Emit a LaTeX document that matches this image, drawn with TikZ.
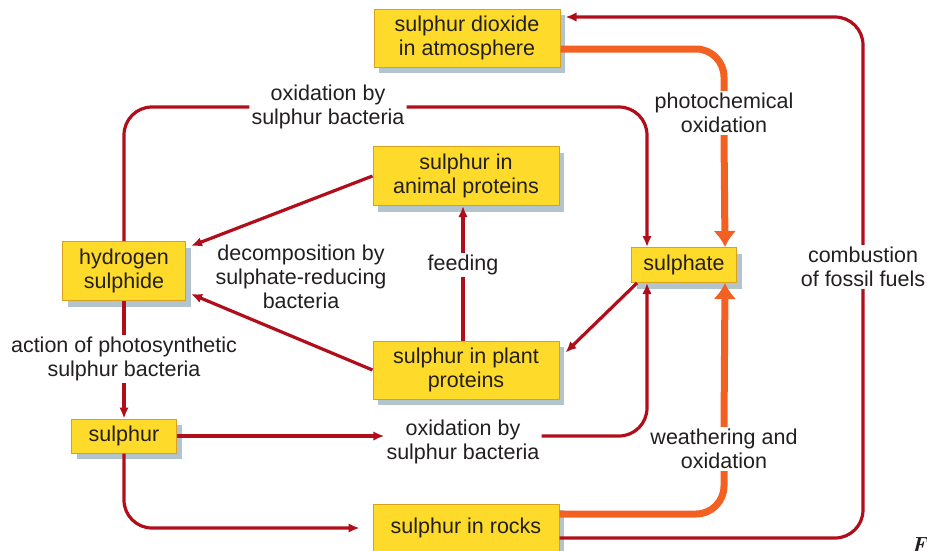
\documentclass[tikz,border=0pt]{standalone}
\usepackage{fontspec}
\newfontfamily\diagfont{Liberation Sans}
\usepackage{xcolor}
\usetikzlibrary{arrows.meta,positioning,shadows}
\definecolor{boxfill}{HTML}{FEDB2A}
\definecolor{boxline}{HTML}{D9A11E}
\definecolor{boxshade}{HTML}{B2C5CE}
\definecolor{cyclered}{HTML}{B10E1B}
\definecolor{cycleorange}{HTML}{F26122}
\definecolor{inktext}{HTML}{231F20}

\begin{document}
\begin{tikzpicture}[
  x=1pt, y=-1pt,
  every node/.style={font=\diagfont\fontsize{21.5}{24}\selectfont, text=inktext},
  box/.style={draw=boxline, line width=1pt, fill=boxfill, align=center, inner sep=2pt,
              general shadow={fill=boxshade, draw=none, shadow xshift=5pt, shadow yshift=-6pt}},
  lbl/.style={fill=white, align=center, inner sep=2pt},
  rline/.style={draw=cyclered, line width=3.2pt, rounded corners=28pt},
  arr/.style={rline, -{Latex[length=11pt,width=9.5pt]}},
  oline/.style={draw=cycleorange, line width=7pt, rounded corners=28pt},
  oarr/.style={oline, -{Latex[length=16pt,width=23pt]}},
]
\useasboundingbox (0,0) rectangle (927,550);
\node[box, minimum width=186pt, minimum height=58pt] (so2) at (467,38) {sulphur dioxide\\in atmosphere};
\node[box, minimum width=186pt, minimum height=59pt] (animal) at (466,176) {sulphur in\\animal proteins};
\node[box, minimum width=123pt, minimum height=59pt] (hs) at (124,271) {hydrogen\\sulphide};
\node[box, minimum width=105pt, minimum height=35pt] (sulphate) at (684,265) {sulphate};
\node[box, minimum width=186pt, minimum height=58pt] (plant) at (466,370) {sulphur in plant\\proteins};
\node[box, minimum width=105pt, minimum height=34pt] (sulphur) at (124,436) {sulphur};
\node[box, minimum width=186pt, minimum height=48pt] (rocks) at (466,528) {sulphur in rocks};

\node[lbl] (oxtop) at (328,107) {oxidation by\\sulphur bacteria};
\node[lbl] (photo) at (724,113) {photochemical\\oxidation};
\node[lbl] (combust) at (863,267) {combustion\\of fossil fuels};
\node[lbl] (decomp) at (301,277) {decomposition by\\sulphate-reducing\\bacteria};
\node[lbl] (feed) at (463,265) {feeding};
\node[lbl] (act) at (124,359) {action of photosynthetic\\sulphur bacteria};
\node[lbl] (oxlow) at (463,442) {oxidation by\\sulphur bacteria};
\node[lbl] (weather) at (724,449) {weathering and\\oxidation};
\node[anchor=north west, inner sep=0pt, font=\fontsize{22}{22}\selectfont\bfseries\itshape] (fig) at (911,537) {F};

\draw[rline] ([yshift=-10pt]rocks.east) -| (combust.south);
\draw[arr] (combust.north) |- ([shift={(5pt,21pt)}]so2.east);
\draw[oline] ([yshift=-11pt]so2.east) -| (photo.north);
\draw[oarr] (photo.south) -- ([xshift=-12pt]sulphate.north east);
\draw[oline] ([yshift=14pt]rocks.east) -| (weather.south);
\draw[oarr] (weather.north) -- ([xshift=-12pt]sulphate.south east);
\draw[rline] (hs.north) |- (oxtop.west);
\draw[arr] (oxtop.east) -| ([xshift=16pt]sulphate.north west);
\draw[arr] (sulphur.east) -- (sulphur.east -| oxlow.west);
\draw[arr] (oxlow.east |- sulphur.east) -| ([xshift=16pt]sulphate.south west);
\draw[rline] (hs.south) -- (act.north);
\draw[arr] (act.south) -- (sulphur.north);
\draw[arr, shorten >=13pt] (sulphur.south) |- (rocks.west);
\draw[rline] (plant.north -| feed) -- (feed.south);
\draw[arr] (feed.north) -- (feed.north |- animal.south);
\draw[arr] (animal.west) -- ([shift={(5pt,-5pt)}]hs.north east);
\draw[arr] (plant.west) -- ([shift={(5pt,7pt)}]hs.south east);
\draw[arr] ([xshift=6pt]sulphate.south west) -- ([shift={(6pt,-12pt)}]plant.north east);
\end{tikzpicture}
\end{document}
